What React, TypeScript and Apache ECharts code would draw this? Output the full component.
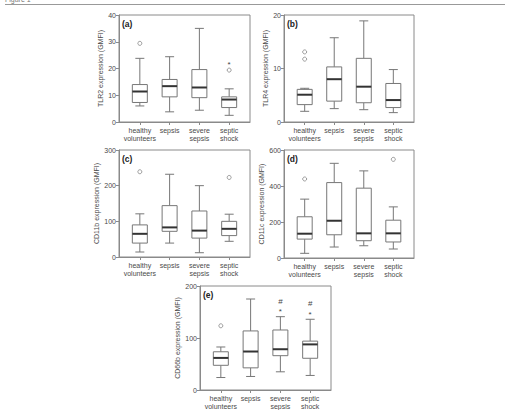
import React, { useEffect, useRef } from "react";
import * as echarts from "echarts";

const categories = ["healthy\nvolunteers", "sepsis", "severe\nsepsis", "septic\nshock"];

// [lower whisker, Q1, median, Q3, upper whisker]
const tlr2Boxes = [
  [6, 7.3, 11.4, 14, 23.8],
  [3.8, 9.4, 13.4, 15.9, 24.4],
  [4.4, 9.1, 12.9, 19.6, 35],
  [2.5, 5.4, 8.4, 9.4, 12.4],
];
const tlr2Outliers = [[0, 29.4], [3, 19.4]];
const tlr2Marks = [[3, 22.2, "*"]];

const tlr4Boxes = [
  [2, 3.25, 5.1, 6.1, 6.3],
  [2.5, 3.9, 8, 10.3, 15.75],
  [2.3, 3.6, 6.6, 11.9, 18.9],
  [1.75, 2.7, 4.1, 7.2, 9.8],
];
const tlr4Outliers = [[0, 13.1], [0, 11.75]];
const tlr4Marks: any[] = [];

const cd11bBoxes = [
  [14, 39, 65, 90, 121],
  [39, 72, 83, 144, 232],
  [12, 53, 74, 129, 200],
  [44, 60, 79, 100, 120],
];
const cd11bOutliers = [[0, 239], [3, 223]];
const cd11bMarks: any[] = [];

const cd11cBoxes = [
  [26, 105, 135, 229, 327],
  [61, 129, 207, 419, 526],
  [68, 96, 137, 388, 484],
  [50, 89, 137, 210, 284],
];
const cd11cOutliers = [[0, 439], [3, 548]];
const cd11cMarks: any[] = [];

const cd66bBoxes = [
  [24, 47.5, 61.7, 73.5, 82.7],
  [26, 42.6, 74, 113.6, 175],
  [35, 66, 78.4, 115.4, 141],
  [28, 61, 87.7, 94, 136],
];
const cd66bOutliers = [[0, 123.5]];
const cd66bMarks = [
  [2, 154, "*"],
  [2, 171, "#"],
  [3, 149, "*"],
  [3, 166, "#"],
];

const panels = [
  { tag: "(a)", name: "TLR2 expression (GMFI)", max: 40, interval: 10, boxes: tlr2Boxes, outliers: tlr2Outliers, marks: tlr2Marks, left: 119, top: 15, width: 131, height: 107 },
  { tag: "(b)", name: "TLR4 expression (GMFI)", max: 20, interval: 10, boxes: tlr4Boxes, outliers: tlr4Outliers, marks: tlr4Marks, left: 284, top: 15, width: 130, height: 107 },
  { tag: "(c)", name: "CD11b expression (GMFI)", max: 300, interval: 100, boxes: cd11bBoxes, outliers: cd11bOutliers, marks: cd11bMarks, left: 119, top: 150, width: 131, height: 107 },
  { tag: "(d)", name: "CD11c expression (GMFI)", max: 600, interval: 200, boxes: cd11cBoxes, outliers: cd11cOutliers, marks: cd11cMarks, left: 284, top: 150, width: 130, height: 108 },
  { tag: "(e)", name: "CD66b expression (GMFI)", max: 200, interval: 100, boxes: cd66bBoxes, outliers: cd66bOutliers, marks: cd66bMarks, left: 200, top: 286, width: 131, height: 108 },
];

const FONT = "Liberation Sans, Arial, sans-serif";
const AXIS_TEXT = "#4a4a4a";
const FRAME = "#8a8a8a";
const BOX = "#777777";

export default function App() {
  const ref = useRef<HTMLDivElement>(null);
  useEffect(() => {
    if (!ref.current) return;
    const chart = echarts.init(ref.current, undefined, { renderer: "svg" });

    const grids: any[] = [];
    const xAxes: any[] = [];
    const yAxes: any[] = [];
    const series: any[] = [];
    const graphics: any[] = [];

    panels.forEach((p, i) => {
      grids.push({
        left: p.left, top: p.top, width: p.width, height: p.height,
        show: true, borderColor: FRAME, borderWidth: 1, backgroundColor: "transparent",
      });
      xAxes.push({
        type: "value", gridIndex: i, min: -0.7, max: 3.7,
        axisLine: { show: true, onZero: false, lineStyle: { color: FRAME } },
        axisTick: { show: true, length: 3, customValues: [0, 1, 2, 3], lineStyle: { color: FRAME } },
        axisLabel: {
          customValues: [0, 1, 2, 3], margin: 4, fontSize: 7, lineHeight: 8,
          color: AXIS_TEXT, fontFamily: FONT,
          formatter: (v: number) => categories[Math.round(v)] ?? "",
        },
        splitLine: { show: false },
      });
      yAxes.push({
        type: "value", gridIndex: i, min: 0, max: p.max, interval: p.interval,
        name: p.name, nameLocation: "middle", nameGap: 14, nameRotate: 90,
        nameTextStyle: { fontSize: 7, color: AXIS_TEXT, fontFamily: FONT },
        axisLine: { show: true, onZero: false, lineStyle: { color: FRAME } },
        axisTick: { show: true, length: 3, lineStyle: { color: FRAME } },
        axisLabel: { fontSize: 7, color: AXIS_TEXT, fontFamily: FONT, margin: 3 },
        splitLine: { show: false },
      });
      series.push({
        type: "custom", xAxisIndex: i, yAxisIndex: i, clip: false,
        data: p.boxes.map((b, k) => [k, ...b]),
        encode: { x: 0, y: [1, 2, 3, 4, 5] },
        renderItem: (params: any, api: any) => {
          const x = api.value(0);
          const lo = api.coord([x, api.value(1)]);
          const q1 = api.coord([x, api.value(2)]);
          const md = api.coord([x, api.value(3)]);
          const q3 = api.coord([x, api.value(4)]);
          const hi = api.coord([x, api.value(5)]);
          const cx = lo[0];
          const hw = 7.5;
          const cw = 4.5;
          const st = { stroke: BOX, lineWidth: 1, fill: null };
          return {
            type: "group",
            children: [
              { type: "line", shape: { x1: cx, y1: lo[1], x2: cx, y2: q1[1] }, style: st },
              { type: "line", shape: { x1: cx, y1: q3[1], x2: cx, y2: hi[1] }, style: st },
              { type: "line", shape: { x1: cx - cw, y1: lo[1], x2: cx + cw, y2: lo[1] }, style: st },
              { type: "line", shape: { x1: cx - cw, y1: hi[1], x2: cx + cw, y2: hi[1] }, style: st },
              { type: "rect", shape: { x: cx - hw, y: q3[1], width: 2 * hw, height: q1[1] - q3[1] }, style: { stroke: BOX, lineWidth: 1, fill: "#fff" } },
              { type: "line", shape: { x1: cx - hw, y1: md[1], x2: cx + hw, y2: md[1] }, style: { stroke: "#333", lineWidth: 2 } },
            ],
          };
        },
      });
      series.push({
        type: "scatter", xAxisIndex: i, yAxisIndex: i,
        data: p.outliers, symbol: "circle", symbolSize: 4,
        itemStyle: { color: "#fff", borderColor: "#666", borderWidth: 0.8 },
      });
      if (p.marks.length) {
        series.push({
          type: "custom", xAxisIndex: i, yAxisIndex: i, clip: false,
          data: p.marks,
          encode: { x: 0, y: 1 },
          renderItem: (params: any, api: any) => {
            const pt = api.coord([api.value(0), api.value(1)]);
            const txt = p.marks[params.dataIndex][2];
            return {
              type: "text",
              style: {
                text: txt, x: pt[0], y: pt[1] + (txt === "*" ? 2 : 0),
                align: "center", verticalAlign: "middle",
                fontSize: 8, fill: "#444", fontFamily: FONT,
              },
            };
          },
        });
      }
      graphics.push({
        type: "text", left: p.left + 3, top: p.top + 4,
        style: { text: p.tag, fontSize: 8.5, fontWeight: "bold", fill: "#222", fontFamily: FONT },
      });
    });

    graphics.push({
      type: "text", left: 5, top: -4,
      style: { text: "Figure 1", fontSize: 7, fill: "#777", fontFamily: FONT },
    });
    graphics.push({
      type: "line", shape: { x1: 5, y1: 4.5, x2: 505, y2: 4.5 },
      style: { stroke: "#999", lineWidth: 1 },
    });

    chart.setOption({
      animation: false,
      backgroundColor: "#fff",
      textStyle: { color: AXIS_TEXT, fontFamily: FONT },
      grid: grids,
      xAxis: xAxes,
      yAxis: yAxes,
      series,
      graphic: graphics,
    });
    return () => chart.dispose();
  }, []);

  return (
    <div
      ref={ref}
      style={{ position: "fixed", left: 0, top: 0, width: 510, height: 410 }}
    />
  );
}
